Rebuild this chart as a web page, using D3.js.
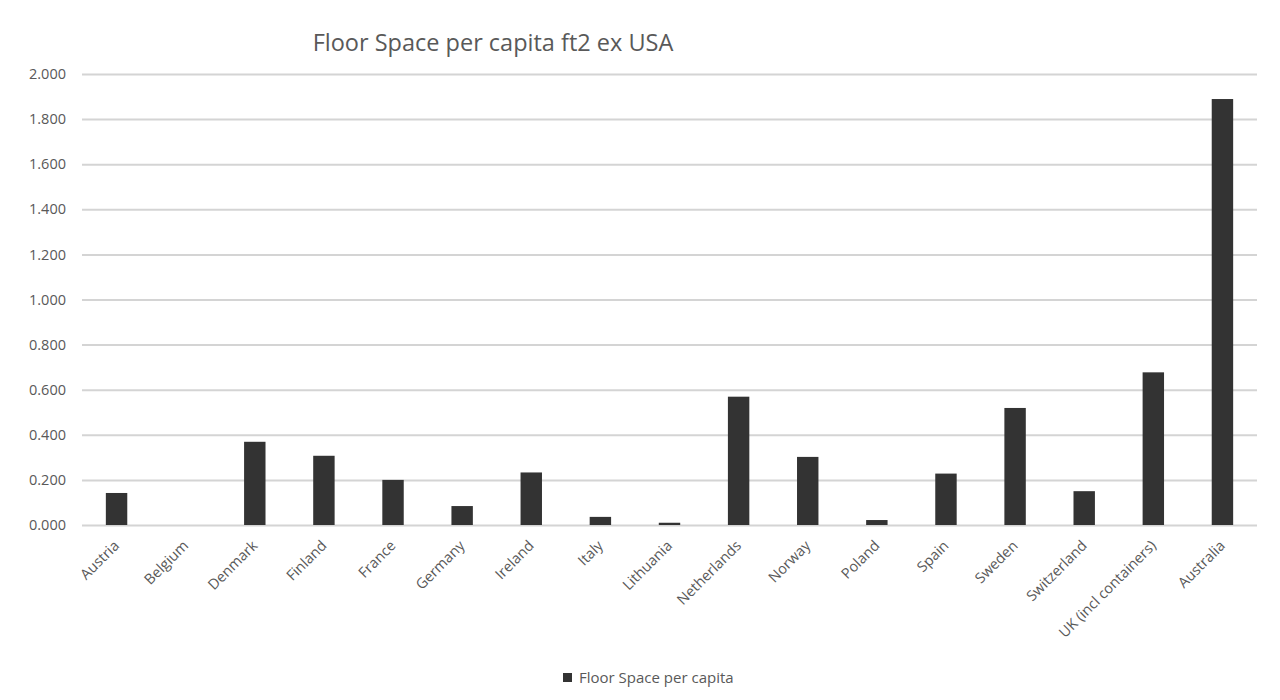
<!DOCTYPE html>
<html>
<head>
<meta charset="utf-8">
<script src="https://cdn.jsdelivr.net/npm/d3@7"></script>
<style>
  body { margin: 0; background: #fff; }
  text { font-family: "Open Sans", "DejaVu Sans", sans-serif; fill: #595959; }
</style>
</head>
<body>
<svg id="chart" width="1280" height="700"></svg>
<script>
var countries = ['Austria', 'Belgium', 'Denmark', 'Finland', 'France', 'Germany',
    'Ireland', 'Italy', 'Lithuania', 'Netherlands', 'Norway', 'Poland', 'Spain',
    'Sweden', 'Switzerland', 'UK (incl containers)', 'Australia'];
var floorSpace = [0.142, 0, 0.369, 0.307, 0.200, 0.084, 0.233, 0.036, 0.010,
    0.569, 0.302, 0.022, 0.228, 0.519, 0.150, 0.677, 1.889];
var yTicks = [0, 0.2, 0.4, 0.6, 0.8, 1.0, 1.2, 1.4, 1.6, 1.8, 2.0];

var svg = d3.select('#chart');
var plotLeft = 82, plotRight = 1257, plotTop = 74, plotBottom = 525;

var x = d3.scaleBand()
    .domain(countries)
    .range([plotLeft, plotRight])
    .paddingInner(0.69)
    .paddingOuter(0.345);

var y = d3.scaleLinear()
    .domain([0, 2])
    .range([plotBottom, plotTop]);

// gridlines + y labels
var yAxis = d3.axisLeft(y)
    .tickValues(yTicks)
    .tickSize(-(plotRight - plotLeft))
    .tickPadding(16)
    .tickFormat(d3.format('.3f'));

var gy = svg.append('g')
    .attr('transform', 'translate(' + plotLeft + ',0)')
    .call(yAxis);
gy.select('.domain').remove();
gy.selectAll('line').attr('stroke', '#d4d4d4').attr('stroke-width', 2);
gy.selectAll('text').style('font-size', '14.5px');

// bars
svg.selectAll('rect.bar')
    .data(floorSpace)
    .enter()
    .append('rect')
    .attr('class', 'bar')
    .attr('x', function (d, i) { return x(countries[i]); })
    .attr('width', x.bandwidth())
    .attr('y', function (d) { return y(d); })
    .attr('height', function (d) { return plotBottom - y(d); })
    .attr('fill', '#333333');

// category labels
var xAxis = d3.axisBottom(x).tickSize(0).tickPadding(0);
var gx = svg.append('g')
    .attr('transform', 'translate(0,' + plotBottom + ')')
    .call(xAxis);
gx.select('.domain').remove();
gx.selectAll('text')
    .style('font-size', '14.5px')
    .attr('text-anchor', 'end')
    .attr('dy', '0.35em')
    .attr('transform', 'translate(0,18) rotate(-45)');

// title
svg.append('text')
    .attr('x', 493)
    .attr('y', 51)
    .attr('text-anchor', 'middle')
    .style('font-size', '23.5px')
    .text('Floor Space per capita ft2 ex USA');

// legend
svg.append('rect')
    .attr('x', 563).attr('y', 673)
    .attr('width', 9).attr('height', 9)
    .attr('fill', '#333333');
svg.append('text')
    .attr('x', 579).attr('y', 678)
    .attr('dy', '0.35em')
    .style('font-size', '15px')
    .text('Floor Space per capita');
</script>
</body>
</html>
